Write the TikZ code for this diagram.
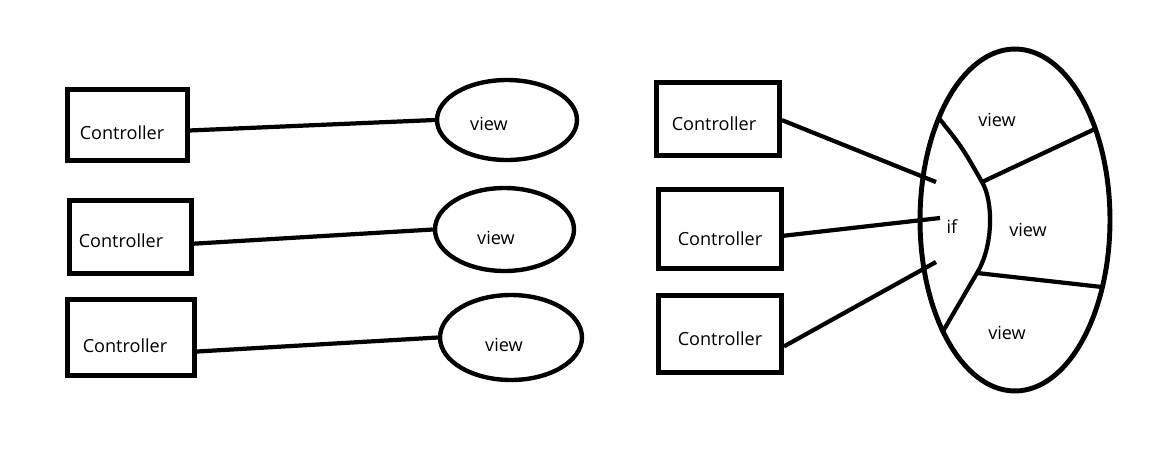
\documentclass[tikz,border=0pt]{standalone}
\usepackage{fontspec}
\setmainfont{Open Sans}
\usetikzlibrary{shapes.geometric}

\begin{document}
\begin{tikzpicture}[x=0.02cm,y=-0.02cm,
	ctrl/.style={draw,rectangle,line width=2.8pt,inner sep=0pt},
	viewell/.style={draw,ellipse,line width=2.5pt,inner sep=0pt},
	wire/.style={line width=2.4pt},
	txt/.style={font=\fontsize{10.3}{12}\selectfont,inner sep=0pt}]
	\useasboundingbox (0,0) rectangle (1157,460);

	\node[ctrl,minimum width=2.4cm,minimum height=1.42cm] (c1) at (127.5,125) {};
	\node[ctrl,minimum width=2.44cm,minimum height=1.46cm] (c2) at (130.5,237) {};
	\node[ctrl,minimum width=2.54cm,minimum height=1.52cm] (c3) at (131,337.5) {};
	\node[txt] (c1t) at (122,133) {Controller};
	\node[txt] (c2t) at (121,241) {Controller};
	\node[txt] (c3t) at (125,346) {Controller};

	\node[viewell,minimum width=2.8cm,minimum height=1.6cm] (v1) at (507,120) {};
	\node[viewell,minimum width=2.78cm,minimum height=1.66cm] (v2) at (504.5,229.5) {};
	\node[viewell,minimum width=2.84cm,minimum height=1.7cm] (v3) at (511,337.5) {};
	\node[txt] (v1t) at (489,124) {view};
	\node[txt] (v2t) at (496,238) {view};
	\node[txt] (v3t) at (504,345) {view};

	\draw[wire] (c1.-5) -- (v1.west);
	\draw[wire] (c2.-6) -- (v2.west);
	\draw[wire] (c3.-12) -- (v3.west);

	\node[ctrl,minimum width=2.46cm,minimum height=1.46cm] (c4) at (718,119) {};
	\node[ctrl,minimum width=2.46cm,minimum height=1.58cm] (c5) at (720,229) {};
	\node[ctrl,minimum width=2.46cm,minimum height=1.54cm] (c6) at (720,334) {};
	\node[txt] (c4t) at (714,124) {Controller};
	\node[txt] (c5t) at (720,239) {Controller};
	\node[txt] (c6t) at (720,339) {Controller};

	\node[viewell,line width=2.8pt,minimum width=3.8cm,minimum height=6.84cm] (big) at (1015,220) {};
	\coordinate (in1) at (936,182);
	\coordinate (in2) at (940,218);
	\coordinate (in3) at (936,262);
	\coordinate (sepTop) at (938,117);
	\coordinate (sepA) at (982,182);
	\coordinate (sepB) at (977,273);
	\coordinate (sepBot) at (942,333);
	\coordinate (rimA) at (1097,128);
	\coordinate (rimB) at (1102,287);

	\draw[wire] (sepTop) .. controls (962,147) .. (sepA)
		.. controls (993,200) and (994,245) .. (sepB) -- (sepBot);
	\draw[wire] (sepA) -- (rimA);
	\draw[wire] (sepB) -- (rimB);

	\draw[wire] (c4.-1) -- (in1);
	\draw[wire] (c5.-6) -- (in2);
	\draw[wire] (c6.-11) -- (in3);

	\node[txt] (ift) at (952,227) {if};
	\node[txt] (b1t) at (997,120) {view};
	\node[txt] (b2t) at (1028,230) {view};
	\node[txt] (b3t) at (1007,333) {view};
\end{tikzpicture}
\end{document}
